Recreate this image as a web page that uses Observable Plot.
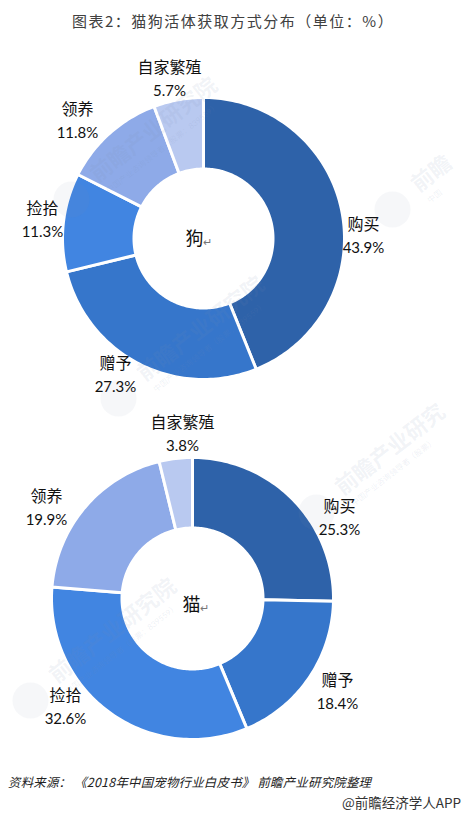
<!DOCTYPE html>
<html><head><meta charset="utf-8">
<script src="https://cdn.jsdelivr.net/npm/d3@7"></script>
<script src="https://cdn.jsdelivr.net/npm/@observablehq/plot@0.6"></script>
<style>
html,body{margin:0;padding:0;background:#fff;width:461px;height:815px;overflow:hidden}
#title{height:40px;margin:0;padding-left:72px;font:15px/41px "Noto Sans CJK SC",sans-serif;letter-spacing:1.5px;color:#404040;white-space:nowrap}
#src{height:22px;padding-left:8px;font:italic 12.4px/22px "Noto Sans CJK SC",sans-serif;letter-spacing:.25px;color:#222;white-space:pre}
#app{height:18px;text-align:right;font:13.5px/18px "Noto Sans CJK SC",sans-serif;color:#333;white-space:nowrap}
svg{display:block}
</style></head><body>
<div id="title">图表2：猫狗活体获取方式分布（单位：%）</div>
<div id="chart"></div>
<div id="src">资料来源： 《2018年中国宠物行业白皮书》 前瞻产业研究院整理</div>
<div id="app">@前瞻经济学人APP</div>
<script>
const categories = ["购买","赠予","捡拾","领养","自家繁殖"];
const palette = ["#2e62a9","#3676cb","#4185e1","#8eaae8","#b9c9f0"];
const dogValues = [43.9,27.3,11.3,11.8,5.7];
const catValues = [25.3,18.4,32.6,19.9,3.8];
const dogCentre = {x:203,y:238,outer:141,inner:69.5,name:"狗",nameX:194,nameY:239,markX:207,markY:242};
const catCentre = {x:192,y:598,outer:141,inner:70.5,name:"猫",nameX:191,nameY:605,markX:204,markY:608};
const dogLabelX = [363,115,42,77,169];
const dogLabelY = [236,375,220,121,79];
const catLabelX = [339,337,65,46,182];
const catLabelY = [518,692,707,508,434];
const watermarkX = [93,414,338,52,140];
const watermarkY = [177,187,490,678,376];
const watermarkMain = ["前瞻产业研究院","前瞻","前瞻产业研究","前瞻产业研究院","前瞻产业研究院"];
const watermarkSub = ["中国产业咨询领导者（股票：839559）","中国","中国产业咨询领导者（股票）","中国产业咨询领导者（股票：839559）","中国产业咨询领导者（股票：839559）"];
const W = 461, H = 731, TOP = 40;

function ring(values, c, chart){
  const pts = [];
  let start = 0;
  values.forEach((v,i)=>{
    const a0 = start/100*2*Math.PI, a1 = (start+v)/100*2*Math.PI;
    const n = Math.max(2, Math.ceil(v*3));
    for (let k=0;k<=n;k++){const a=a0+(a1-a0)*k/n;pts.push({key:chart+i,cat:categories[i],x:c.x+c.outer*Math.sin(a),y:c.y-c.outer*Math.cos(a)});}
    for (let k=n;k>=0;k--){const a=a0+(a1-a0)*k/n;pts.push({key:chart+i,cat:categories[i],x:c.x+c.inner*Math.sin(a),y:c.y-c.inner*Math.cos(a)});}
    start += v;
  });
  return pts;
}
const labels = (vals,lx,ly)=>categories.map((n,i)=>({name:n,value:`${vals[i].toFixed(1)}%`,x:lx[i],y:ly[i]}));
const allLabels = [...labels(dogValues,dogLabelX,dogLabelY),...labels(catValues,catLabelX,catLabelY)];
const centres = [dogCentre,catCentre];
const marks = watermarkX.map((x,i)=>({x,y:watermarkY[i],main:watermarkMain[i],sub:watermarkSub[i]}));
const rot = -38;

const plot = Plot.plot({
  width:W,height:H,margin:0,
  x:{domain:[0,W],range:[0,W],axis:null},
  y:{domain:[TOP,TOP+H],range:[0,H],axis:null},
  color:{domain:categories,range:palette},
  style:{background:"#fff",fontFamily:'"Lato","Noto Sans CJK SC",sans-serif'},
  marks:[
    Plot.line([...ring(dogValues,dogCentre,"dog"),...ring(catValues,catCentre,"cat")],
      {x:"x",y:"y",z:"key",fill:"cat",stroke:"#fff",strokeWidth:3,curve:"linear-closed"}),
    Plot.dot(marks,{x:d=>d.x-22,y:d=>d.y+22,r:18,fill:"#7d8cb0",fillOpacity:0.07,stroke:"none"}),
    Plot.text(marks,{x:"x",y:"y",text:"main",rotate:rot,textAnchor:"start",fontSize:22,fontWeight:700,fill:"#7d8cb0",fillOpacity:0.1}),
    Plot.text(marks,{x:d=>d.x+14,y:d=>d.y+14,text:"sub",rotate:rot,textAnchor:"start",fontSize:8,fill:"#7d8cb0",fillOpacity:0.13}),
    Plot.text(allLabels,{x:"x",y:d=>d.y-11.5,text:"name",fontSize:16,fontFamily:'"Noto Sans CJK SC",sans-serif',fill:"#111"}),
    Plot.text(allLabels,{x:"x",y:d=>d.y+11.5,text:"value",fontSize:15,fill:"#111"}),
    Plot.text(centres,{x:"nameX",y:"nameY",text:"name",fontSize:18,fontFamily:'"Noto Sans CJK SC",sans-serif',fill:"#111"}),
    Plot.text(centres,{x:"markX",y:"markY",text:()=>"↵",fontSize:11,fill:"#777"})
  ]
});
document.getElementById("chart").append(plot);
</script>
</body></html>
